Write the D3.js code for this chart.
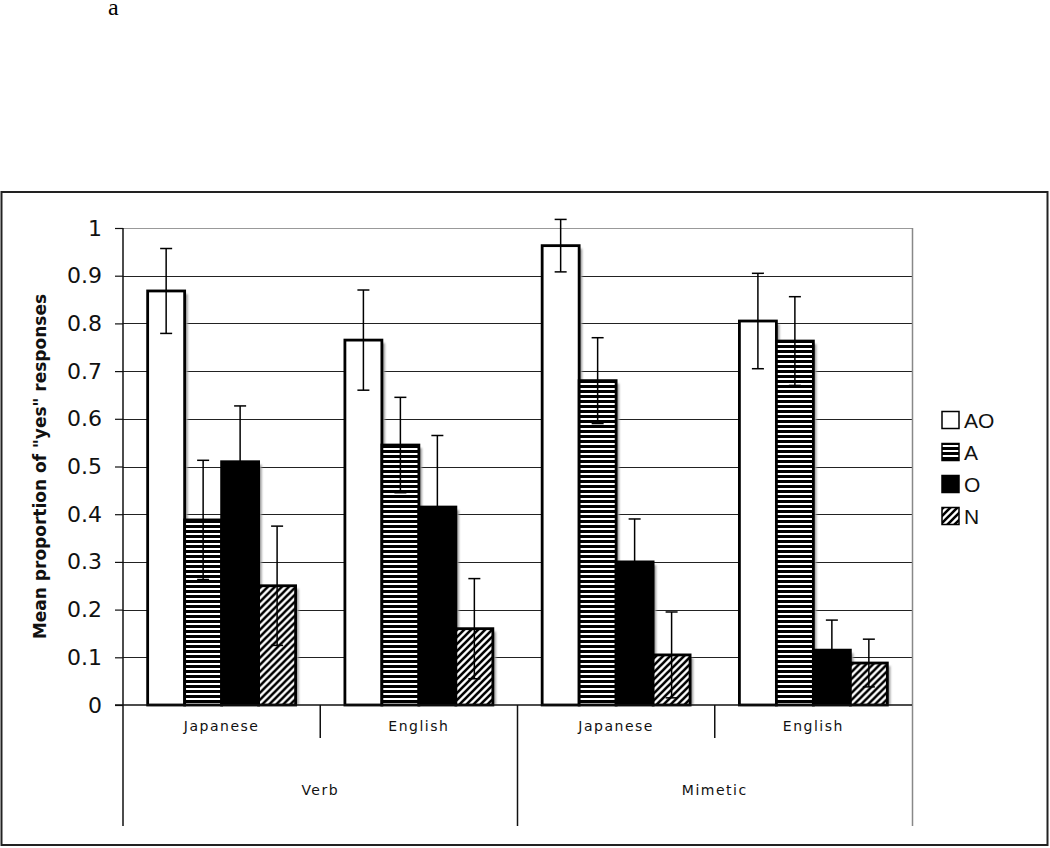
<!DOCTYPE html>
<meta charset="utf-8">
<script src="https://d3js.org/d3.v7.min.js"></script>
<style>
  body { margin: 0; background: #fff; }
</style>
<div id="chart"></div>
<script>
// data
var groups = ["Verb", "Mimetic"];
var languages = ["Japanese", "English", "Japanese", "English"];
var series = ["AO", "A", "O", "N"];
var valAO = [0.868, 0.765, 0.963, 0.805];
var errAO = [0.089, 0.105, 0.055, 0.100];
var valA = [0.388, 0.545, 0.680, 0.763];
var errA = [0.125, 0.100, 0.090, 0.093];
var valO = [0.510, 0.415, 0.300, 0.115];
var errO = [0.117, 0.150, 0.090, 0.063];
var valN = [0.250, 0.160, 0.105, 0.088];
var errN = [0.125, 0.105, 0.090, 0.050];
var yTicks = [0, 0.1, 0.2, 0.3, 0.4, 0.5, 0.6, 0.7, 0.8, 0.9, 1];

var vals = { AO: valAO, A: valA, O: valO, N: valN };
var errs = { AO: errAO, A: errA, O: errO, N: errN };

var width = 1050, height = 848;
var plotLeft = 123, plotRight = 912, plotTop = 228, plotBottom = 705, catBottom = 826;

var svg = d3.select("#chart").append("svg")
    .attr("width", width)
    .attr("height", height)
    .style("font-family", "'DejaVu Sans', Verdana, sans-serif");

// patterns
var defs = svg.append("defs");
var stripes = defs.append("pattern")
    .attr("id", "stripes")
    .attr("patternUnits", "userSpaceOnUse")
    .attr("width", 6).attr("height", 5);
stripes.append("rect").attr("width", 6).attr("height", 5).attr("fill", "#000");
stripes.append("rect").attr("y", 3).attr("width", 6).attr("height", 2).attr("fill", "#fff");

var hatch = defs.append("pattern")
    .attr("id", "hatch")
    .attr("patternUnits", "userSpaceOnUse")
    .attr("width", 7).attr("height", 7);
hatch.append("rect").attr("width", 7).attr("height", 7).attr("fill", "#fff");
hatch.append("path")
    .attr("d", "M-1,1 l2,-2 M0,7 l7,-7 M6,8 l2,-2")
    .attr("stroke", "#000")
    .attr("stroke-width", 2.6);

var fills = { AO: "#fff", A: "url(#stripes)", O: "#000", N: "url(#hatch)" };

defs.append("filter").attr("id", "blur")
    .append("feGaussianBlur").attr("stdDeviation", 0.8);

// the "a" panel label
svg.append("text")
    .attr("x", 108).attr("y", 15)
    .style("font-family", "'Liberation Serif', 'Times New Roman', serif")
    .style("font-size", "24px")
    .text("a");

// outer frame
svg.append("rect")
    .attr("x", 1.5).attr("y", 192)
    .attr("width", 1046).attr("height", 653)
    .attr("fill", "none")
    .attr("stroke", "#222")
    .attr("stroke-width", 2);

// scales
var y = d3.scaleLinear().domain([0, 1]).range([plotBottom, plotTop]);
var x0 = d3.scaleBand().domain(d3.range(languages.length))
    .range([plotLeft, plotRight]).paddingInner(0.25).paddingOuter(0.125);
var x1 = d3.scaleBand().domain(series).range([0, x0.bandwidth()]);
var xCat = d3.scaleBand().domain(d3.range(languages.length)).range([plotLeft, plotRight]);

// gridlines
svg.append("g").selectAll("line")
    .data(yTicks.filter(function(d) { return d > 0; }))
    .enter().append("line")
    .attr("x1", plotLeft).attr("x2", plotRight)
    .attr("y1", function(d) { return Math.round(y(d)) + 0.5; })
    .attr("y2", function(d) { return Math.round(y(d)) + 0.5; })
    .attr("stroke", function(d) { return d === 1 ? "#999" : "#222"; })
    .attr("stroke-width", 1.2);

// right border of plot
svg.append("line")
    .attr("x1", plotRight + 0.5).attr("x2", plotRight + 0.5)
    .attr("y1", plotTop).attr("y2", catBottom)
    .attr("stroke", "#888").attr("stroke-width", 1.5);

// y axis
var yAxis = svg.append("g")
    .attr("transform", "translate(" + plotLeft + ",0)")
    .call(d3.axisLeft(y).tickValues(yTicks).tickSize(8).tickPadding(13)
        .tickFormat(function(d) { return d === 0 || d === 1 ? d3.format("d")(d) : d3.format(".1f")(d); }));
yAxis.select(".domain").remove();
yAxis.selectAll(".tick line").attr("stroke", "#111").attr("stroke-width", 1.2);
yAxis.selectAll(".tick text")
    .style("font-family", "'DejaVu Sans', Verdana, sans-serif")
    .style("font-size", "22px")
    .attr("fill", "#111");

svg.append("line")
    .attr("x1", plotLeft).attr("x2", plotLeft)
    .attr("y1", plotTop).attr("y2", catBottom)
    .attr("stroke", "#111").attr("stroke-width", 1.5);

// y title
svg.append("text")
    .attr("transform", "translate(46," + ((plotTop + plotBottom) / 2) + ") rotate(-90)")
    .attr("text-anchor", "middle")
    .style("font-size", "17px")
    .style("font-weight", "bold")
    .attr("fill", "#111")
    .text("Mean proportion of \"yes\" responses");

// bars
var groupsG = svg.append("g").selectAll("g")
    .data(languages)
    .enter().append("g")
    .attr("transform", function(d, i) { return "translate(" + x0(i) + ",0)"; });

var barData = function(d, i) {
    return series.map(function(s) { return { key: s, value: vals[s][i], err: errs[s][i] }; });
};

groupsG.selectAll("rect.shadow")
    .data(barData)
    .enter().append("rect")
    .attr("class", "shadow")
    .attr("x", function(d) { return x1(d.key) + 3; })
    .attr("y", function(d) { return y(d.value) + 3; })
    .attr("width", x1.bandwidth())
    .attr("height", function(d) { return plotBottom - y(d.value) - 3; })
    .attr("fill", "#999")
    .attr("filter", "url(#blur)");

groupsG.selectAll("rect.bar")
    .data(barData)
    .enter().append("rect")
    .attr("class", "bar")
    .attr("x", function(d) { return x1(d.key); })
    .attr("y", function(d) { return y(d.value); })
    .attr("width", x1.bandwidth())
    .attr("height", function(d) { return plotBottom - y(d.value); })
    .attr("fill", function(d) { return fills[d.key]; })
    .attr("stroke", "#000")
    .attr("stroke-width", 2.8);

// error bars
var eb = groupsG.selectAll("g.err")
    .data(barData)
    .enter().append("g")
    .attr("class", "err")
    .attr("transform", function(d) { return "translate(" + (x1(d.key) + x1.bandwidth() / 2) + ",0)"; });
eb.append("line")
    .attr("y1", function(d) { return y(d.value + d.err); })
    .attr("y2", function(d) { return y(d.value - d.err); })
    .attr("stroke", "#000").attr("stroke-width", 1.5);
eb.append("line")
    .attr("x1", -6).attr("x2", 6)
    .attr("y1", function(d) { return y(d.value + d.err); })
    .attr("y2", function(d) { return y(d.value + d.err); })
    .attr("stroke", "#000").attr("stroke-width", 1.5);
eb.append("line")
    .attr("x1", -6).attr("x2", 6)
    .attr("y1", function(d) { return y(d.value - d.err); })
    .attr("y2", function(d) { return y(d.value - d.err); })
    .attr("stroke", "#000").attr("stroke-width", 1.5);

// x axis line
svg.append("line")
    .attr("x1", plotLeft - 8).attr("x2", plotRight)
    .attr("y1", plotBottom).attr("y2", plotBottom)
    .attr("stroke", "#111").attr("stroke-width", 1.5);

// category separators
svg.append("g").selectAll("line")
    .data(d3.range(1, languages.length))
    .enter().append("line")
    .attr("x1", function(i) { return xCat(i); })
    .attr("x2", function(i) { return xCat(i); })
    .attr("y1", plotBottom)
    .attr("y2", function(i) { return i % 2 === 0 ? catBottom : 738; })
    .attr("stroke", "#111").attr("stroke-width", 1.5);

svg.append("g").selectAll("text")
    .data(languages)
    .enter().append("text")
    .attr("x", function(d, i) { return xCat(i) + xCat.bandwidth() / 2; })
    .attr("y", 731)
    .attr("text-anchor", "middle")
    .style("font-size", "14px")
    .style("letter-spacing", "1.5px")
    .attr("fill", "#111")
    .text(function(d) { return d; });

svg.append("g").selectAll("text")
    .data(groups)
    .enter().append("text")
    .attr("x", function(d, i) { return xCat(i * 2) + xCat.bandwidth(); })
    .attr("y", 795)
    .attr("text-anchor", "middle")
    .style("font-size", "14px")
    .style("letter-spacing", "1.5px")
    .attr("fill", "#111")
    .text(function(d) { return d; });

// legend
var legend = svg.append("g").selectAll("g")
    .data(series)
    .enter().append("g")
    .attr("transform", function(d, i) { return "translate(942," + (420 + i * 32) + ")"; });
legend.append("rect")
    .attr("x", 0).attr("y", -8.5)
    .attr("width", 17).attr("height", 17)
    .attr("fill", function(d) { return fills[d]; })
    .attr("stroke", "#000")
    .attr("stroke-width", 1.5);
legend.append("text")
    .attr("x", 22).attr("y", 0)
    .attr("dy", "0.36em")
    .style("font-family", "'Liberation Sans', Arial, sans-serif")
    .style("font-size", "21px")
    .attr("fill", "#111")
    .text(function(d) { return d; });
</script>
